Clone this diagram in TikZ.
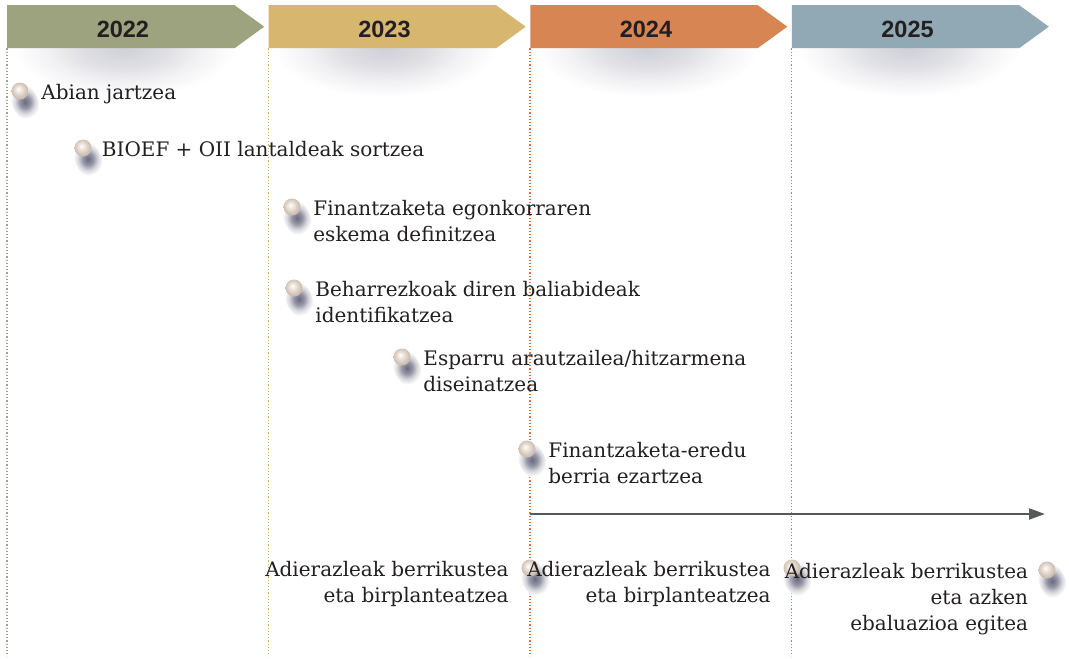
\documentclass[tikz,border=0pt]{standalone}
\usepackage{fontspec}
\setmainfont{DejaVu Serif}
\newfontfamily\yearfont{Liberation Sans}
\usetikzlibrary{shapes.symbols,arrows.meta,positioning}

\definecolor{c22}{HTML}{9DA37F}
\definecolor{c23}{HTML}{D7B770}
\definecolor{c24}{HTML}{D68553}
\definecolor{c25}{HTML}{91A8B5}
\definecolor{dot22}{HTML}{A2A388}
\definecolor{dot23}{HTML}{D6AE5E}
\definecolor{dot24}{HTML}{E0733D}
\definecolor{dot25}{HTML}{7394B5}
\definecolor{ink}{HTML}{231F20}
\definecolor{arrowgray}{HTML}{58595B}
\definecolor{shadowtint}{HTML}{4E5068}
\definecolor{pearlmid}{HTML}{F1EAE3}
\definecolor{pearledge}{HTML}{CDBCAE}
\pgfdeclareradialshading{pearlshade}{\pgfpoint{-5bp}{6bp}}{color(0bp)=(white); color(7bp)=(pearlmid); color(19bp)=(pearledge!70!pearlmid); color(25bp)=(pearledge); color(50bp)=(pearledge)}
\pgfdeclareradialshading{dropshade}{\pgfpoint{0bp}{0bp}}{color(0bp)=(shadowtint!85!white); color(8bp)=(shadowtint!60!white); color(15bp)=(shadowtint!22!white); color(22bp)=(white); color(50bp)=(white)}
\pgfdeclareradialshading{headshade}{\pgfpoint{0bp}{0bp}}{color(0bp)=(shadowtint!27!white); color(8bp)=(shadowtint!19!white); color(15bp)=(shadowtint!8!white); color(22bp)=(white); color(50bp)=(white)}

\begin{document}
\begin{tikzpicture}[
  x=1pt, y=-1pt,
  font=\fontsize{20}{26}\selectfont,
  yearbox/.style={signal, signal to=east, signal pointer angle=72, minimum width=257pt, minimum height=43pt, inner sep=0pt},
  yearlbl/.style={font=\yearfont\bfseries\fontsize{23.5}{26}\selectfont, text=ink, xshift=2pt, yshift=-3pt},
  guide/.style={dotted, line width=1.2pt},
  pearl/.style={circle, minimum size=17pt, inner sep=0pt, shade, shading=pearlshade},
  task/.style={inner sep=0pt, align=left, text=ink, anchor=north west, yshift=7pt},
  review/.style={inner sep=0pt, align=right, text=ink, anchor=north east, yshift=7pt},
  timearrow/.style={-{Triangle[length=16pt, width=11pt]}, line width=2pt, arrowgray}
]
  \useasboundingbox (0,0) rectangle (1069,659);

  % soft shadows under the headers
  \begin{scope}
    \clip (0,48) rectangle (1069,160);
    \foreach \cx in {124,385,647,908}
      \shade[shading=headshade] (\cx,48) ellipse (126 and 56);
  \end{scope}

  % Row 1: year headers
  \node[yearbox, fill=c22, anchor=north west, label={[yearlbl]center:2022}] (y2022) at (7,5) {};
  \node[yearbox, fill=c23, right=4pt of y2022, label={[yearlbl]center:2023}] (y2023) {};
  \node[yearbox, fill=c24, right=4pt of y2023, label={[yearlbl]center:2024}] (y2024) {};
  \node[yearbox, fill=c25, right=4pt of y2024, label={[yearlbl]center:2025}] (y2025) {};

  % dotted year guides
  \draw[guide, dot22] (y2022.west |- y2022.south) -- ++(0,608);
  \draw[guide, dot23] (y2023.west |- y2023.south) -- ++(0,608);
  \draw[guide, dot24] (y2024.west |- y2024.south) -- ++(0,608);
  \draw[guide, dot25] (y2025.west |- y2025.south) -- ++(0,608);

  % bullets with their drop shadows
  \foreach \n/\p in {b1/{20,91}, b2/{83,148}, b3/{292,207}, b4/{294,288}, b5/{402,357},
                     b6/{527,449}, b7/{530,568}, b8/{792,568}, b9/{1047,570}} {
    \shade[shading=dropshade] (\p) ++(5,11) ellipse [x radius=13, y radius=21, rotate=26];
    \node[pearl] (\n) at (\p) {};
  }

  % Tasks, text right of the bullet
  \node[right=12.5pt of b1, task] (t1) {Abian jartzea};
  \node[right=10pt of b2, task] (t2) {BIOEF + OII lantaldeak sortzea};
  \node[right=12.5pt of b3, task] (t3) {Finantzaketa egonkorraren\\eskema definitzea};
  \node[right=12.5pt of b4, task] (t4) {Beharrezkoak diren baliabideak\\identifikatzea};
  \node[right=12.5pt of b5, task] (t5) {Esparru arautzailea/hitzarmena\\diseinatzea};
  \node[right=12.5pt of b6, task] (t6) {Finantzaketa-eredu\\berria ezartzea};

  % Ongoing arrow from 2024 on
  \coordinate (tl0) at (y2024.west |- 0,514);
  \coordinate (tl1) at (1045,514);
  \draw[timearrow] (tl0) -- (tl1);

  % Reviews: text left of the bullet
  \node[left=12.5pt of b7, review] (t7) {Adierazleak berrikustea\\eta birplanteatzea};
  \node[left=12.5pt of b8, review] (t8) {Adierazleak berrikustea\\eta birplanteatzea};
  \node[left=10pt of b9, review] (t9) {Adierazleak berrikustea\\eta azken\\ebaluazioa egitea};
\end{tikzpicture}
\end{document}
